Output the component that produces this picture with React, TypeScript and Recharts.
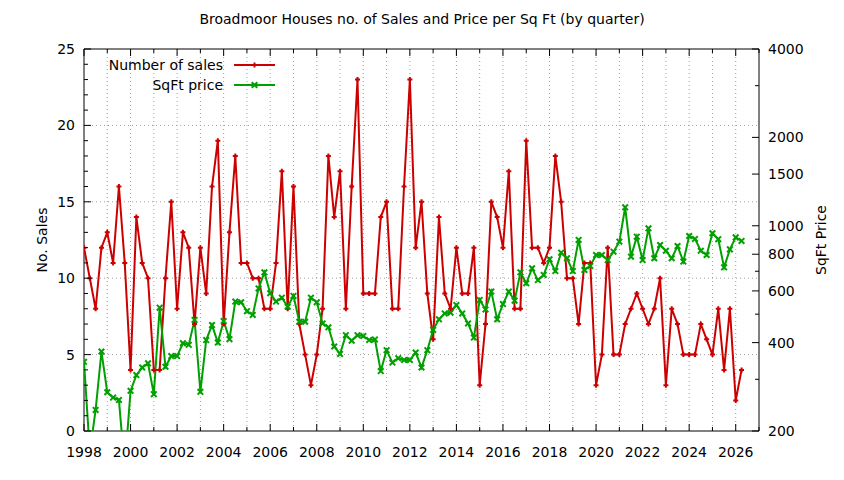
import React from 'react';
import { LineChart, Line, XAxis, YAxis, CartesianGrid, ReferenceArea } from 'recharts';

const TITLE = 'Broadmoor Houses no. of Sales and Price per Sq Ft (by quarter)';
const START_YEAR = 1998;

// Number of sales per quarter, 1998 Q1 .. 2026 Q2
const SALES = [
  12, 10, 8, 12,
  13, 11, 16, 11,
  4, 14, 11, 10,
  4, 4, 10, 15,
  8, 13, 12, 7,
  12, 9, 16, 19,
  7, 13, 18, 11,
  11, 10, 10, 8,
  8, 11, 17, 8,
  16, 7, 5, 3,
  5, 8, 18, 14,
  17, 8, 16, 23,
  9, 9, 9, 14,
  15, 8, 8, 16,
  23, 12, 15, 9,
  6, 14, 9, 8,
  12, 9, 9, 12,
  3, 7, 15, 14,
  12, 17, 8, 8,
  19, 12, 12, 11,
  12, 18, 15, 10,
  10, 7, 11, 11,
  3, 5, 12, 5,
  5, 7, 8, 9,
  8, 7, 8, 10,
  3, 8, 7, 5,
  5, 5, 7, 6,
  5, 8, 4, 8,
  2, 4,
];

// Price per sq ft per quarter (right, log axis)
const PRICE = [
  344, 170, 236, 373,
  271, 260, 255, 150,
  274, 310, 329, 340,
  267, 526, 331, 360,
  360, 398, 393, 478,
  272, 408, 459, 400,
  474, 411, 552, 549,
  512, 497, 612, 694,
  589, 552, 569, 530,
  577, 471, 471, 569,
  549, 465, 451, 388,
  366, 424, 406, 424,
  421, 408, 410, 320,
  377, 342, 354, 349,
  349, 370, 329, 377,
  442, 480, 503, 506,
  537, 503, 465, 416,
  559, 519, 597, 480,
  541, 597, 556, 694,
  637, 716, 653, 680,
  769, 701, 810, 775,
  701, 895, 707, 730,
  795, 795, 764, 816,
  883, 1156, 785, 918,
  764, 980, 775, 860,
  822, 775, 853, 755,
  923, 902, 822, 795,
  943, 900, 722, 831,
  913, 888,
];

const X_TICKS = [
  1998, 1999, 2000, 2001, 2002, 2003, 2004, 2005, 2006, 2007,
  2008, 2009, 2010, 2011, 2012, 2013, 2014, 2015, 2016, 2017,
  2018, 2019, 2020, 2021, 2022, 2023, 2024, 2025, 2026, 2027,
];
const X_LABELS = [
  1998, 2000, 2002, 2004, 2006, 2008, 2010, 2012, 2014, 2016, 2018, 2020, 2022, 2024, 2026,
];
const LEFT_TICKS = [
  0, 1, 2, 3, 4, 5, 6, 7, 8, 9, 10, 11, 12, 13, 14, 15, 16, 17, 18, 19, 20, 21, 22, 23, 24, 25,
];
const LEFT_LABELS = [0, 5, 10, 15, 20, 25];
const RIGHT_TICKS = [200, 300, 400, 500, 600, 700, 800, 900, 1000, 1500, 2000, 3000, 4000];
const RIGHT_LABELS = [200, 400, 600, 800, 1000, 1500, 2000, 4000];
const GRID_Y = [5, 10, 15, 20];

const SERIES_NAMES = ['Number of sales', 'SqFt price'];
const LEFT_TITLE = 'No. Sales';
const RIGHT_TITLE = 'SqFt Price';

const data = SALES.map((s, i) => ({ t: START_YEAR + i / 4, sales: s, price: PRICE[i] }));

const RED = '#cc0000';
const GREEN = '#00a000';
const FONT = "'DejaVu Sans', sans-serif";
const FS = 14;

const W = 844;
const H = 480;
const M_TOP = 49;
const X_AXIS_H = 49;
const LEFT_W = 84;
const RIGHT_W = 85;
const PLOT_TOP = M_TOP;

const MAJOR = 7;
const MINOR = 4;

function XTick(props: any) {
  const { x, y, payload } = props;
  const v = payload.value;
  const major = X_LABELS.includes(v);
  const len = major ? MAJOR : MINOR;
  return (
    <g>
      <line x1={x} x2={x} y1={y} y2={y - len} stroke="#000" strokeWidth={1} />
      <line x1={x} x2={x} y1={PLOT_TOP} y2={PLOT_TOP + len} stroke="#000" strokeWidth={1} />
      {major && (
        <text x={x} y={y + 21} textAnchor="middle" dominantBaseline="central" fontFamily={FONT} fontSize={FS} fill="#000">
          {v}
        </text>
      )}
    </g>
  );
}

function LeftTick(props: any) {
  const { x, y, payload } = props;
  const v = payload.value;
  const major = LEFT_LABELS.includes(v);
  const len = major ? MAJOR : MINOR;
  return (
    <g>
      <line x1={x} x2={x + len} y1={y} y2={y} stroke="#000" strokeWidth={1} />
      {major && (
        <text x={x - 9} y={y} textAnchor="end" dominantBaseline="central" fontFamily={FONT} fontSize={FS} fill="#000">
          {v}
        </text>
      )}
    </g>
  );
}

function RightTick(props: any) {
  const { x, y, payload } = props;
  const v = payload.value;
  const major = RIGHT_LABELS.includes(v);
  const len = major ? MAJOR : MINOR;
  return (
    <g>
      <line x1={x} x2={x - len} y1={y} y2={y} stroke="#000" strokeWidth={1} />
      {major && (
        <text x={x + 9} y={y} textAnchor="start" dominantBaseline="central" fontFamily={FONT} fontSize={FS} fill="#000">
          {v}
        </text>
      )}
    </g>
  );
}

function PlusDot(props: any) {
  const { cx, cy, index } = props;
  if (cx == null || cy == null) return <g key={index} />;
  const r = 2.5;
  return (
    <path
      key={index}
      d={`M${cx - r},${cy}H${cx + r}M${cx},${cy - r}V${cy + r}`}
      stroke={RED}
      strokeWidth={2}
      fill="none"
    />
  );
}

function CrossDot(props: any) {
  const { cx, cy, index } = props;
  if (cx == null || cy == null) return <g key={index} />;
  const r = 2.8;
  return (
    <path
      key={index}
      d={`M${cx - r},${cy - r}L${cx + r},${cy + r}M${cx - r},${cy + r}L${cx + r},${cy - r}`}
      stroke={GREEN}
      strokeWidth={2}
      fill="none"
    />
  );
}

function Overlay() {
  const legendRight = 223;
  const lineX1 = 234;
  const lineX2 = 275;
  const ys = [65, 85];
  const colors = [RED, GREEN];
  return (
    <svg width={W} height={H} style={{ position: 'absolute', left: 0, top: 0, pointerEvents: 'none' }}>
      <text x={422} y={19} textAnchor="middle" dominantBaseline="central" fontFamily={FONT} fontSize={FS} fill="#000">
        {TITLE}
      </text>
      <text
        x={0}
        y={0}
        transform={`translate(42,240) rotate(-90)`}
        textAnchor="middle"
        dominantBaseline="central"
        fontFamily={FONT}
        fontSize={FS}
        fill="#000"
      >
        {LEFT_TITLE}
      </text>
      <text
        x={0}
        y={0}
        transform={`translate(821,240) rotate(-90)`}
        textAnchor="middle"
        dominantBaseline="central"
        fontFamily={FONT}
        fontSize={FS}
        fill="#000"
      >
        {RIGHT_TITLE}
      </text>
      {SERIES_NAMES.map((n, i) => (
        <g key={n}>
          <text x={legendRight} y={ys[i]} textAnchor="end" dominantBaseline="central" fontFamily={FONT} fontSize={FS} fill="#000">
            {n}
          </text>
          <line x1={lineX1} x2={lineX2} y1={ys[i]} y2={ys[i]} stroke={colors[i]} strokeWidth={2} />
          {i === 0 ? (
            <PlusDot cx={(lineX1 + lineX2) / 2} cy={ys[i]} index={0} />
          ) : (
            <CrossDot cx={(lineX1 + lineX2) / 2} cy={ys[i]} index={0} />
          )}
        </g>
      ))}
    </svg>
  );
}

export default function App() {
  return (
    <div style={{ position: 'absolute', left: 0, top: 0, width: W, height: H, background: '#fff' }}>
      <LineChart width={W} height={H} data={data} margin={{ top: M_TOP, right: 0, bottom: 0, left: 0 }}>
        <CartesianGrid
          yAxisId="left"
          stroke="#a0a0a0"
          strokeDasharray="1 3"
          horizontalValues={GRID_Y}
          verticalValues={X_TICKS.slice(1, -1)}
        />
        <XAxis
          dataKey="t"
          type="number"
          domain={[1998, 2027]}
          ticks={X_TICKS}
          interval={0}
          height={X_AXIS_H}
          axisLine={false}
          tickLine={false}
          tickSize={0}
          tickMargin={0}
          tick={<XTick />}
          allowDataOverflow
        />
        <YAxis
          yAxisId="left"
          orientation="left"
          type="number"
          domain={[0, 25]}
          ticks={LEFT_TICKS}
          interval={0}
          width={LEFT_W}
          axisLine={false}
          tickLine={false}
          tickSize={0}
          tickMargin={0}
          tick={<LeftTick />}
          allowDataOverflow
        />
        <YAxis
          yAxisId="right"
          orientation="right"
          type="number"
          scale="log"
          domain={[200, 4000]}
          ticks={RIGHT_TICKS}
          interval={0}
          width={RIGHT_W}
          axisLine={false}
          tickLine={false}
          tickSize={0}
          tickMargin={0}
          tick={<RightTick />}
          allowDataOverflow
        />
        <ReferenceArea
          yAxisId="left"
          x1={1998}
          x2={2027}
          y1={0}
          y2={25}
          fill="none"
          fillOpacity={0}
          stroke="#000"
          strokeWidth={1}
          ifOverflow="visible"
        />
        <Line
          yAxisId="left"
          dataKey="sales"
          stroke={RED}
          strokeWidth={2}
          dot={PlusDot}
          activeDot={false}
          isAnimationActive={false}
          type="linear"
        />
        <Line
          yAxisId="right"
          dataKey="price"
          stroke={GREEN}
          strokeWidth={2}
          dot={CrossDot}
          activeDot={false}
          isAnimationActive={false}
          type="linear"
        />
      </LineChart>
      <Overlay />
    </div>
  );
}
